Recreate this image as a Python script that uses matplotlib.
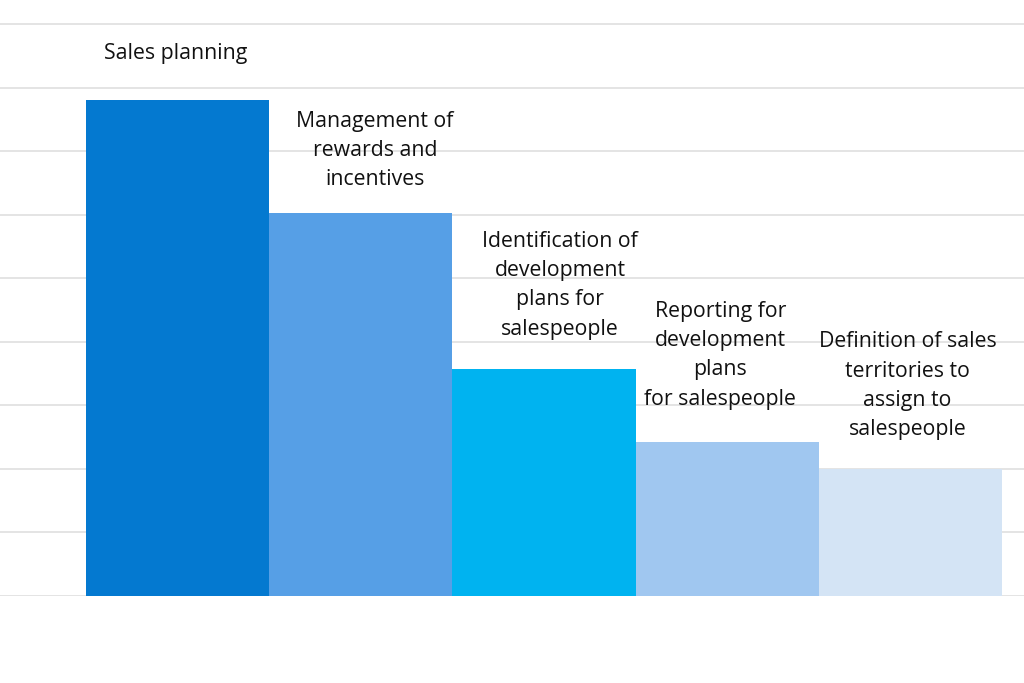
import matplotlib
matplotlib.use("Agg")
import matplotlib.pyplot as plt

categories = [
    "Sales planning",
    "Management of\nrewards and\nincentives",
    "Identification of\ndevelopment\nplans for\nsalespeople",
    "Reporting for\ndevelopment\nplans\nfor salespeople",
    "Definition of sales\nterritories to\nassign to\nsalespeople",
]
values = [7.81, 6.02, 3.57, 2.42, 2.0]
colors = ["#0479D0", "#569FE6", "#00B3F0", "#A0C7F0", "#D4E4F5"]

# label placement (offsets from bar centre/top, in pixels)
label_dx = [-2, 14, 16, -7, -3]
label_dy = [46, 63, 84, 87, 83]

W, H = 1024, 683
fig = plt.figure(figsize=(W / 100, H / 100), dpi=100)
ax = fig.add_axes([0, (H - 596) / H, 1, (596 - 10) / H])
px_per_unit = (596 - 24) / 9
ax.set_ylim(0, (596 - 10) / px_per_unit)
unit_x = (1002 - 86) / 5
ax.set_xlim(-0.5 - 86 / unit_x, 4.5 + (W - 1002) / unit_x)

for y in range(0, 10):
    ax.axhline(y, color="#E2E2E2", lw=1.3, zorder=0)

x = range(len(values))
ax.bar(x, values, width=1.0, color=colors, zorder=2, linewidth=0)

for i, (lab, v) in enumerate(zip(categories, values)):
    ax.annotate(lab, xy=(i, v), xytext=(label_dx[i] * 0.72, label_dy[i] * 0.72),
                textcoords="offset points", ha="center", va="center",
                fontsize=15.3, family=["Open Sans", "DejaVu Sans"], color="#111111",
                linespacing=1.52, zorder=3)

for s in ax.spines.values():
    s.set_visible(False)
ax.set_xticks([])
ax.set_yticks([])
fig.savefig("out.png", dpi=100, facecolor="white")
